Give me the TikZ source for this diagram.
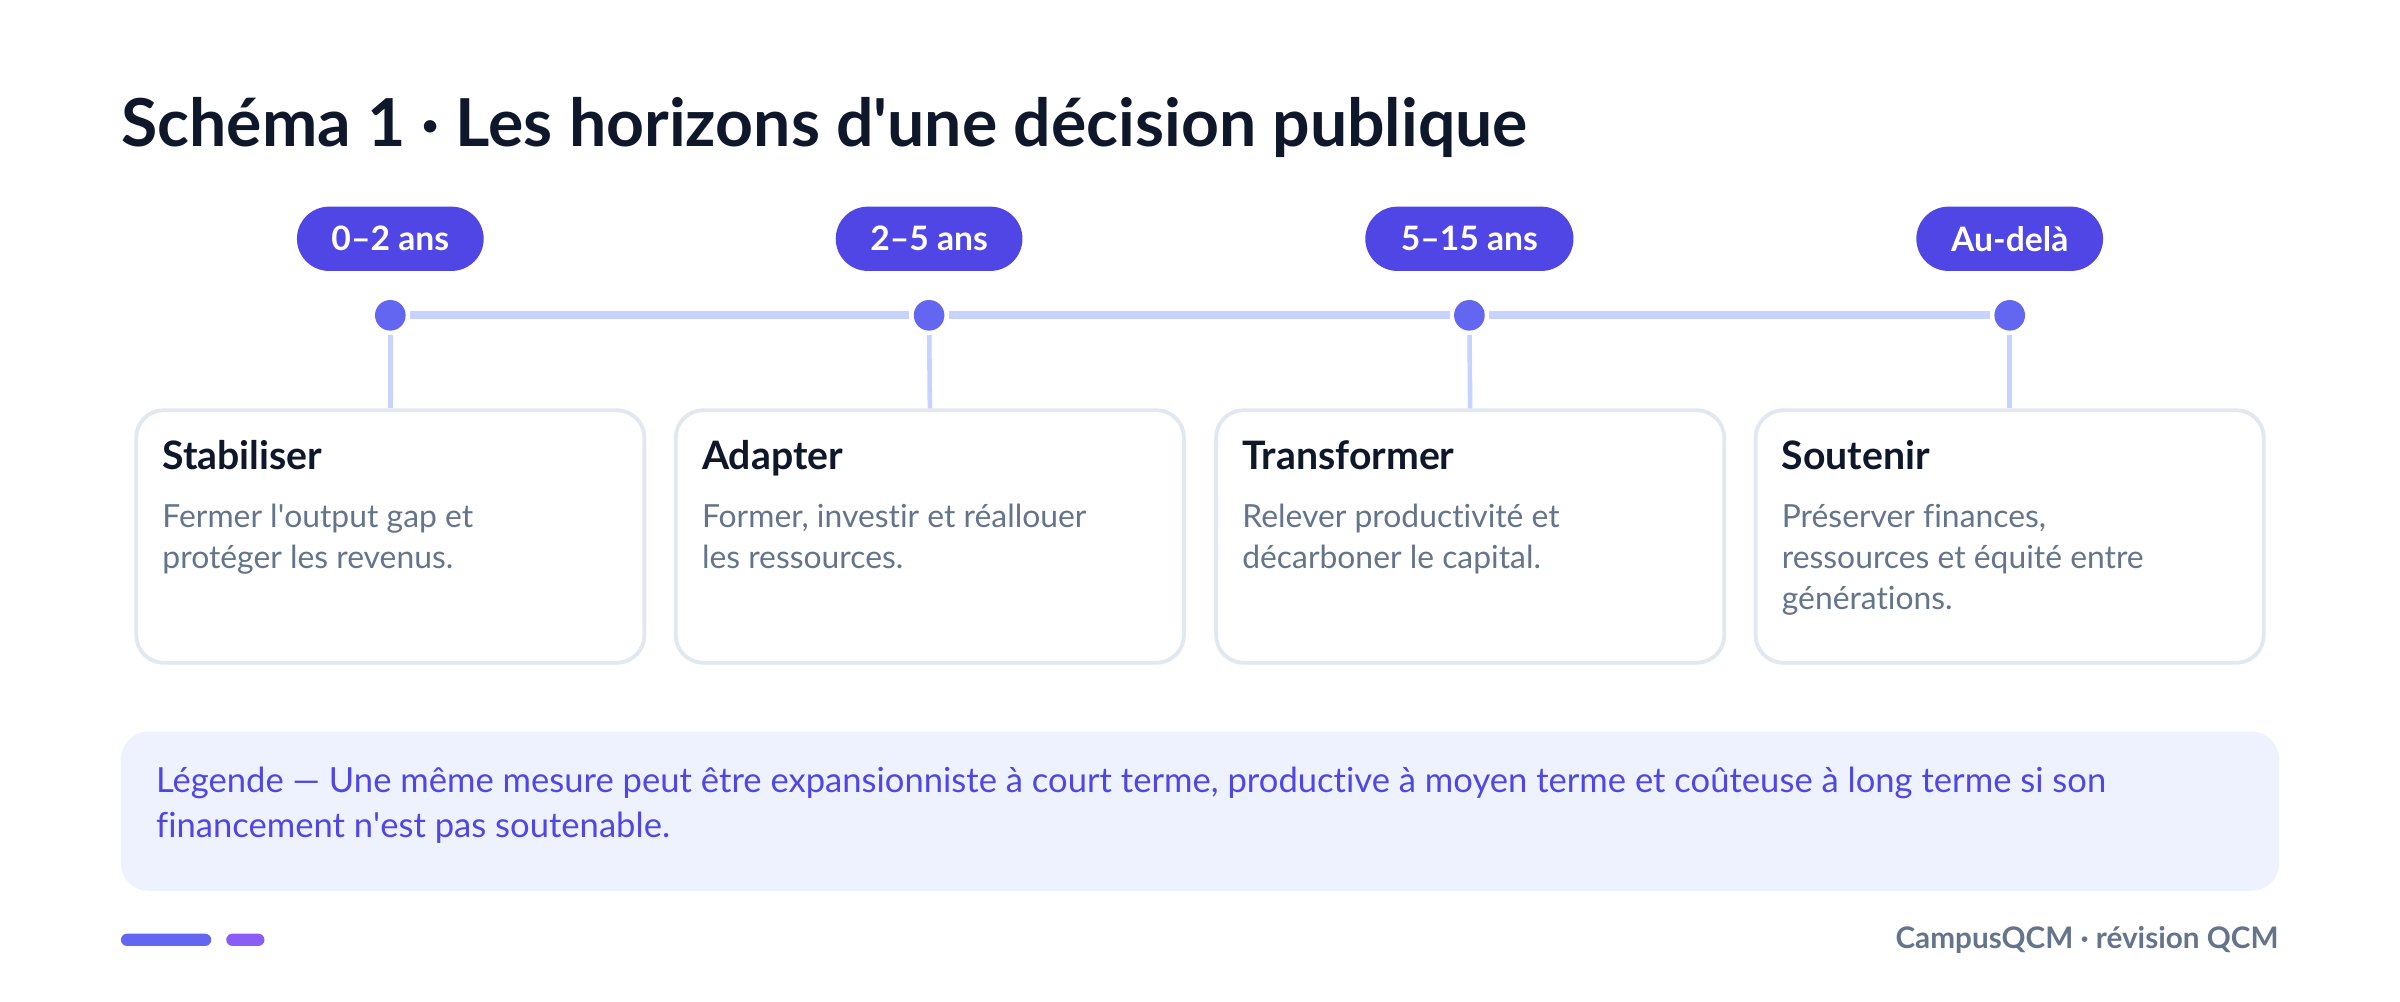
\documentclass[tikz,border=0pt]{standalone}
\usepackage{fontspec}
\setmainfont{Lato}[Ligatures={TeX,NoCommon}]
\usetikzlibrary{positioning,calc}

\definecolor{ink}{HTML}{0F172A}
\definecolor{pillblue}{HTML}{4F46E5}
\definecolor{dotblue}{HTML}{6366F1}
\definecolor{trackblue}{HTML}{C7D2FE}
\definecolor{cardline}{HTML}{E2E8F0}
\definecolor{muted}{HTML}{64748B}
\definecolor{legendfill}{HTML}{EEF2FF}
\definecolor{violetbar}{HTML}{8B5CF6}

\begin{document}
\begin{tikzpicture}[x=0.5pt, y=-0.5pt,
    pill/.style={fill=pillblue, text=white, font=\bfseries\fontsize{11}{13}\selectfont,
        rounded corners=10.5pt, minimum width=61pt, minimum height=21pt, inner sep=0pt},
    dot/.style={circle, fill=dotblue, minimum size=10pt, inner sep=0pt, outer sep=1.5pt},
    track/.style={draw=trackblue, line width=2.5pt},
    stem/.style={draw=trackblue, line width=1.5pt},
    card/.style={draw=cardline, fill=white, line width=1.25pt, rounded corners=9pt,
        minimum width=166pt, minimum height=82.5pt},
    head/.style={anchor=base west, inner sep=0pt, text=ink,
        font=\bfseries\fontsize{12.8}{15}\selectfont},
    body/.style={anchor=north west, inner sep=0pt, text=muted, align=left,
        font=\fontsize{10.4}{13.4}\selectfont, execute at begin node=\strut},
    bar/.style={rounded corners=2pt, minimum height=4pt, inner sep=0pt}]

   \path[fill=white, use as bounding box] (0,0) rectangle (1568,654);

   % title
   \node[anchor=base west, inner sep=0pt, text=ink, font=\bfseries\fontsize{21.6}{26}\selectfont]
       (title) at (79,96) {Schéma 1 · Les horizons d\textquotesingle une décision publique};

   % horizons
   \node[pill] (p1) at (255,156) {0–2 ans};
   \node[pill] (p2) at (607,156) {2–5 ans};
   \node[pill, minimum width=68pt] (p3) at (960,156) {5–15 ans};
   \node[pill] (p4) at (1313,156) {Au-delà};

   \node[dot] (d1) at (255,206) {};
   \node[dot] (d2) at (607,206) {};
   \node[dot] (d3) at (960,206) {};
   \node[dot] (d4) at (1313,206) {};

   \draw[track] (d1) -- (d2);
   \draw[track] (d2) -- (d3);
   \draw[track] (d3) -- (d4);

   % cards
   \node[card] (c1) at (255,350.5) {};
   \node[card] (c2) at (607.5,350.5) {};
   \node[card] (c3) at (960.5,350.5) {};
   \node[card] (c4) at (1313,350.5) {};

   \draw[stem] (d1) -- (c1.north);
   \draw[stem] (d2) -- (c2.north);
   \draw[stem] (d3) -- (c3.north);
   \draw[stem] (d4) -- (c4.north);

   \node[head] (h1) at ([shift={(18,40)}]c1.north west) {Stabiliser};
   \node[head] (h2) at ([shift={(18,40)}]c2.north west) {Adapter};
   \node[head] (h3) at ([shift={(18,40)}]c3.north west) {Transformer};
   \node[head] (h4) at ([shift={(18,40)}]c4.north west) {Soutenir};

   \node[body] (b1) at ([shift={(18,62)}]c1.north west) {Fermer l\textquotesingle output gap et\\protéger les revenus.};
   \node[body] (b2) at ([shift={(18,62)}]c2.north west) {Former, investir et réallouer\\les ressources.};
   \node[body] (b3) at ([shift={(18,62)}]c3.north west) {Relever productivité et\\décarboner le capital.};
   \node[body] (b4) at ([shift={(18,62)}]c4.north west) {Préserver finances,\\ressources et équité entre\\générations.};

   % legend
   \node[fill=legendfill, rounded corners=9pt, minimum width=705pt, minimum height=52pt]
       (legend) at (784,530) {};
   \node[anchor=north west, inner sep=0pt, text=pillblue, align=left,
       font=\fontsize{11.3}{14.8}\selectfont, execute at begin node=\strut]
       (legendtext) at ([shift={(23,23)}]legend.north west)
       {Légende — Une même mesure peut être expansionniste à court terme, productive à moyen terme et coûteuse à long terme si son\\financement n\textquotesingle est pas soutenable.};

   % footer
   \node[bar, fill=dotblue, minimum width=29.5pt] (bar1) at (108.5,614) {};
   \node[bar, fill=violetbar, minimum width=12.5pt, right=4.5pt of bar1] (bar2) {};
   \node[anchor=east, inner sep=0pt, text=muted, font=\bfseries\fontsize{9.7}{12}\selectfont]
       (footer) at (1489,614) {CampusQCM · révision QCM};
\end{tikzpicture}
\end{document}
